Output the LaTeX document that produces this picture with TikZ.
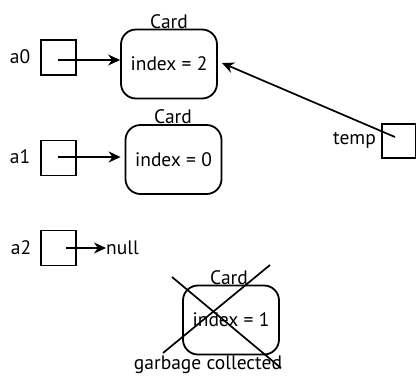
\documentclass[tikz,border=0pt]{standalone}
\usepackage{fontspec}
\setmainfont{PT Sans}
\usetikzlibrary{arrows.meta}
\begin{document}
\begin{tikzpicture}[x=1pt,y=-1pt,
  every node/.style={font=\fontsize{19.5}{22}\selectfont, inner sep=0pt},
  refbox/.style={draw, line width=1.5pt, minimum size=35pt},
  card/.style={draw, line width=1.8pt, rounded corners=15pt, minimum width=96pt, minimum height=69pt},
  ptr/.style={line width=1.7pt, -{Stealth[length=12pt,width=11pt]}},
  cross/.style={line width=1.7pt}]
\useasboundingbox (0,0) rectangle (416,376);
% a0
\node[refbox] (a0) at (58.5,57.5) {};
\node (la0) at (20,57) {a0};
\node[card] (c0) at (169,64) {index = 2};
\node[anchor=base] (t0) at (169,28.5) {Card};
% a1
\node[refbox] (a1) at (58.5,158) {};
\node (la1) at (20,157) {a1};
\node[card] (c1) at (173.5,159.5) {index = 0};
\node[anchor=base] (t1) at (173,123.5) {Card};
% a2
\node[refbox] (a2) at (58.5,248) {};
\node (la2) at (21,248) {a2};
\node[anchor=west] (null) at (106,248) {null};
% card 2 (garbage)
\node[card] (c2) at (231,320) {index = 1};
\node[anchor=base] (t2) at (229,284.5) {Card};
\node[anchor=base] (gc) at (208,369) {garbage collected};
\coordinate (x1a) at (172,277);
\coordinate (x1b) at (281,368);
\coordinate (x2a) at (270,265);
\coordinate (x2b) at (163,353);
\draw[cross] (x1a) -- (x1b);
\draw[cross] (x2a) -- (x2b);
% temp
\node[refbox, minimum size=34pt] (tb) at (399,141) {};
\node[anchor=east] (lt) at (376,140) {temp};
% arrows
\coordinate (s0) at (58,60);
\coordinate (s1) at (58,157);
\coordinate (s2) at (66,248);
\coordinate (st) at (395,137);
\coordinate (e0) at (222,63);
\draw[ptr] (s0) -- (s0 -| c0.west);
\draw[ptr, shorten >=4pt] (s1) -- (s1 -| c1.west);
\draw[ptr] (s2) -- (null.west);
\draw[ptr] (st) -- (e0);
\end{tikzpicture}
\end{document}
